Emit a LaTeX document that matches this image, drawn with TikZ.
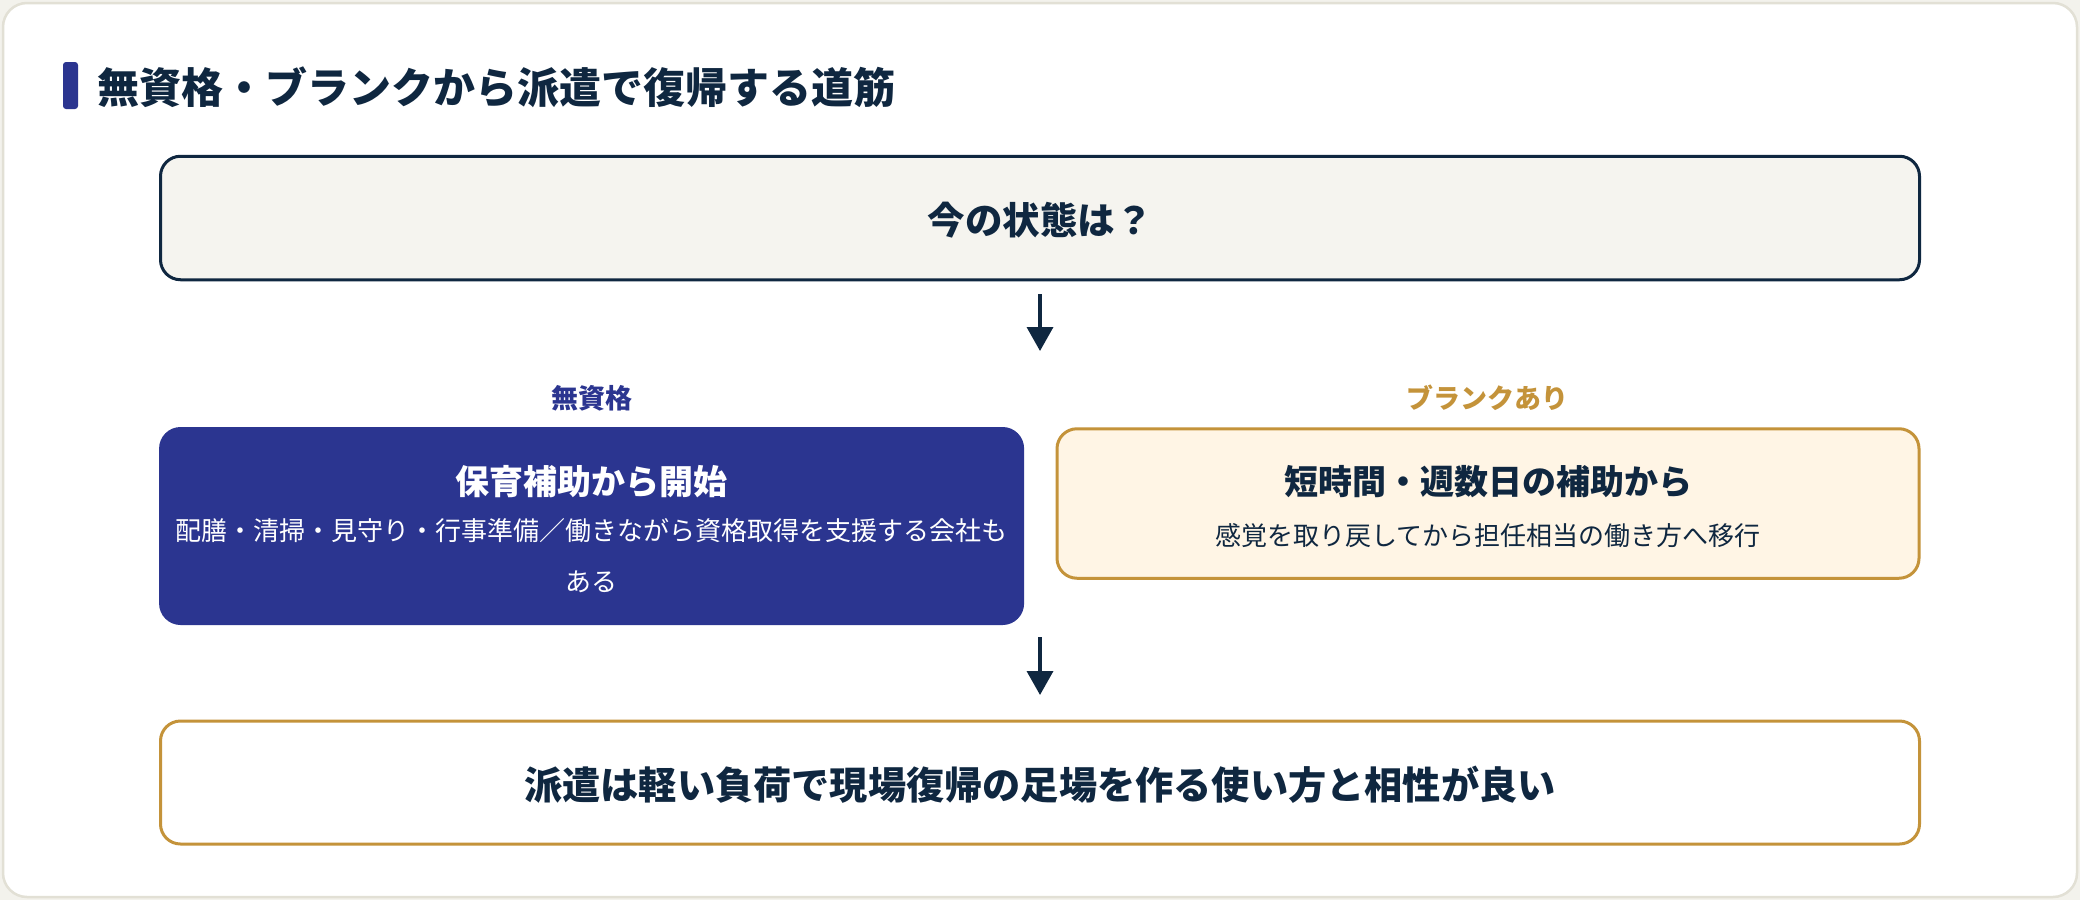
\documentclass[tikz,border=0pt]{standalone}
\usepackage{fontspec}
\setmainfont{Noto Sans CJK JP}
\usetikzlibrary{arrows.meta}
\definecolor{navy}{HTML}{0F2740}
\definecolor{royal}{HTML}{2B3590}
\definecolor{gold}{HTML}{C4933A}
\definecolor{cream}{HTML}{FFF5E5}
\definecolor{paper}{HTML}{F5F4EF}
\definecolor{pagebg}{HTML}{F3F2EC}
\definecolor{cardline}{HTML}{E2E0D5}
\tikzset{
  boxshape/.style={rectangle, rounded corners=20pt, line width=3pt, inner sep=0pt},
  txt/.style={inner sep=0pt, anchor=center},
  flowarrow/.style={line width=3.6pt, draw=navy, -{Triangle[length=24pt,width=26pt]}},
}
\begin{document}
\begin{tikzpicture}[x=1pt,y=-1pt]
\useasboundingbox (0,0) rectangle (2080,900);
\fill[pagebg] (0,0) rectangle (2080,900);
\draw[cardline, fill=white, line width=2.5pt, rounded corners=24pt] (3,3) rectangle (2077,897);
% title
\fill[royal, rounded corners=3pt] (63,62) rectangle (78,109);
\node[txt, anchor=west, text=navy, font=\fontsize{42}{48}\selectfont\bfseries] (title) at (97,87) {無資格・ブランクから派遣で復帰する道筋};
% box 1
\node[boxshape, draw=navy, fill=paper, minimum width=1759pt, minimum height=123.5pt] (now) at (1040,218) {};
\node[txt, text=navy, font=\fontsize{37.5}{44}\selectfont\bfseries] (nowtxt) at (1040,220) {今の状態は？};
% arrow 1
\coordinate (a1s) at (1040,294);
\coordinate (a1e) at (1040,351);
\draw[flowarrow] (a1s) -- (a1e);
% labels
\node[txt, text=royal, font=\fontsize{27}{30}\selectfont\bfseries] (lab1) at (592,398) {無資格};
\node[txt, text=gold, font=\fontsize{27}{30}\selectfont\bfseries] (lab2) at (1487,398) {ブランクあり};
% blue box
\node[boxshape, draw=royal, fill=royal, minimum width=862pt, minimum height=195pt] (bluebox) at (591.6,526) {};
\node[txt, text=white, font=\fontsize{34}{40}\selectfont\bfseries] (bt) at (591.6,482) {保育補助から開始};
\node[txt, text=white, font=\fontsize{26}{30}\selectfont] (bs1) at (591.6,531) {配膳・清掃・見守り・行事準備／働きながら資格取得を支援する会社も};
\node[txt, text=white, font=\fontsize{26}{30}\selectfont] (bs2) at (591.6,582) {ある};
% orange box
\node[boxshape, draw=gold, fill=cream, minimum width=862pt, minimum height=149.5pt] (goldbox) at (1488,503.5) {};
\node[txt, text=navy, font=\fontsize{34}{40}\selectfont\bfseries] (gt) at (1488,482) {短時間・週数日の補助から};
\node[txt, text=navy, font=\fontsize{26}{30}\selectfont] (gs) at (1488,536) {感覚を取り戻してから担任相当の働き方へ移行};
% arrow 2
\coordinate (a2s) at (1040,637);
\coordinate (a2e) at (1040,695);
\draw[flowarrow] (a2s) -- (a2e);
% bottom box
\node[boxshape, draw=gold, fill=white, minimum width=1759pt, minimum height=123pt] (result) at (1040,782.5) {};
\node[txt, text=navy, font=\fontsize{38.2}{44}\selectfont\bfseries] (restxt) at (1040,785) {派遣は軽い負荷で現場復帰の足場を作る使い方と相性が良い};
\end{tikzpicture}
\end{document}
